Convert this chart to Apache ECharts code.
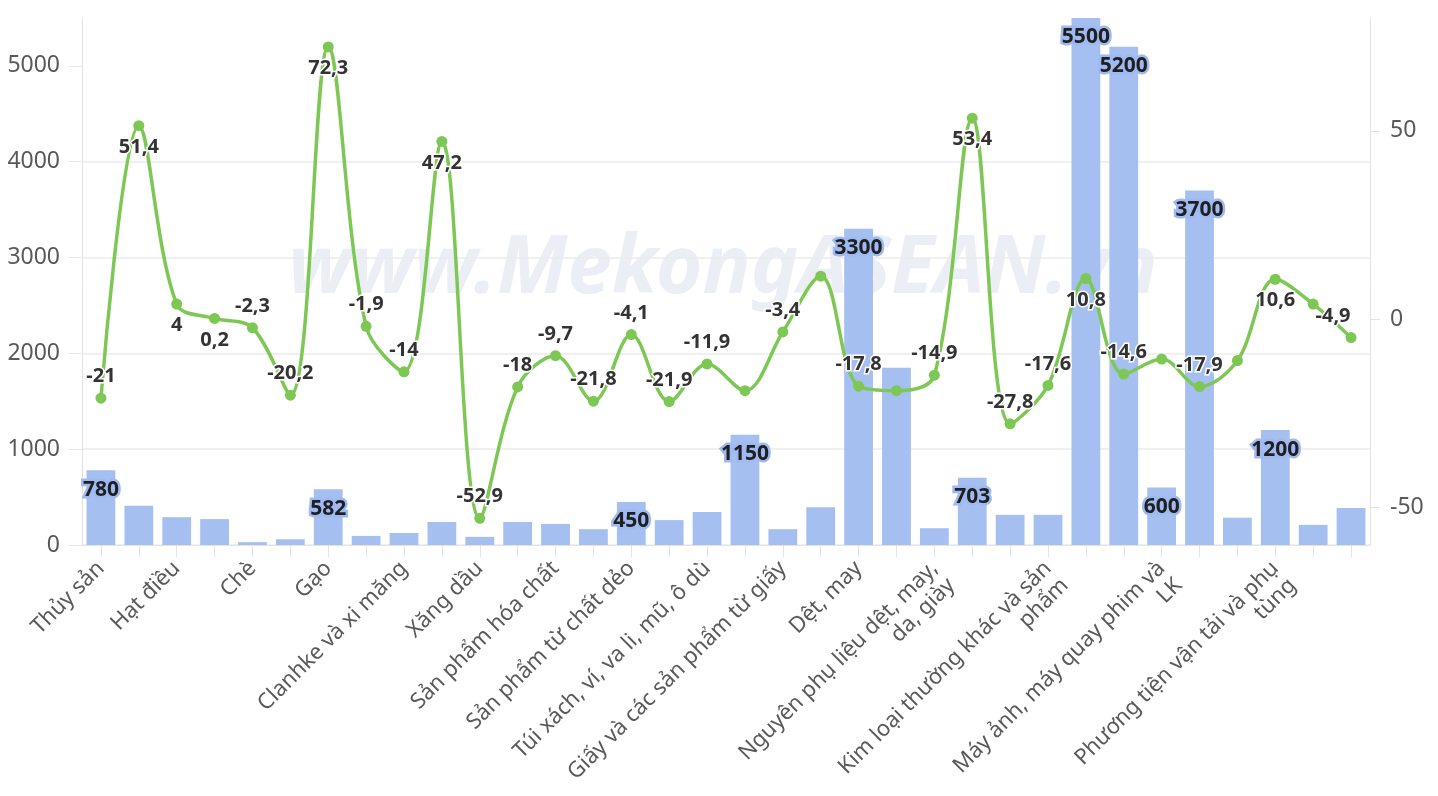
<!DOCTYPE html>
<html>
<head>
<meta charset="utf-8">
<script src="https://cdn.jsdelivr.net/npm/echarts@6/dist/echarts.min.js"></script>
<style>
html,body{margin:0;padding:0;background:#fff;}
#chart{width:1438px;height:796px;}
</style>
</head>
<body>
<div id="chart"></div>
<script>
const categories = [
  "Thủy sản", "Rau quả", "Hạt điều", "Cà phê", "Chè", "Hạt tiêu", "Gạo",
  "Sắn và các sản phẩm từ sắn", "Clanhke và xi măng", "Than các loại", "Xăng dầu",
  "Hóa chất", "Sản phẩm hóa chất", "Chất dẻo nguyên liệu", "Sản phẩm từ chất dẻo",
  "Sản phẩm từ cao su", "Túi xách, ví, va li, mũ, ô dù", "Gỗ và sản phẩm gỗ",
  "Giấy và các sản phẩm từ giấy", "Xơ, sợi dệt các loại", "Dệt, may", "Vải các loại",
  "Nguyên phụ liệu dệt, may,\nda, giày", "Giày dép các loại", "Sắt thép các loại",
  "Kim loại thường khác và sản\nphẩm", "Máy vi tính, sản phẩm điện tử và linh kiện",
  "Điện thoại các loại và linh kiện", "Máy ảnh, máy quay phim và\nLK",
  "Máy móc, thiết bị, dụng cụ phụ tùng khác", "Dây điện và dây cáp điện",
  "Phương tiện vận tải và phụ\ntùng", "Sản phẩm gốm, sứ", "Hàng hóa khác"
];
const exportValues = [
  780, 410, 290, 270, 30, 60, 582, 95, 125, 240, 85,
  240, 220, 165, 450, 260, 345, 1150, 165, 395, 3300, 1850,
  175, 703, 315, 315, 5500, 5200, 600, 3700, 285, 1200, 210, 385
];
const growthValues = [
  -21, 51.4, 4, 0.2, -2.3, -20.2, 72.3, -1.9, -14, 47.2, -52.9,
  -18, -9.7, -21.8, -4.1, -21.9, -11.9, -19, -3.4, 11.4, -17.8, -19,
  -14.9, 53.4, -27.8, -17.6, 10.8, -14.6, -10.6, -17.9, -11, 10.6, 4, -4.9
];
const leftTicks = [0, 1000, 2000, 3000, 4000, 5000];
const rightTicks = [-50, 0, 50];

// display configuration (not data)
const shownCategoryLabels = [0, 2, 4, 6, 8, 10, 12, 14, 16, 18, 20, 22, 25, 28, 31];
const barLabelIdx = [0, 6, 14, 17, 20, 23, 26, 27, 28, 29, 31];
const lineLabelHidden = [17, 19, 21, 28, 30, 32];
const lineLabelBelow = [1, 2, 3, 6, 9, 23, 26, 31];

const BAR = '#a5bff0';
const GREEN = '#7dc855';
const fmt = v => String(v).replace('.', ',');

const barData = exportValues.map((v, i) => ({
  value: v,
  label: { show: barLabelIdx.includes(i) }
}));
const lineData = growthValues.map((v, i) => {
  const lbl = { show: !lineLabelHidden.includes(i) };
  if (lineLabelBelow.includes(i)) lbl.position = 'bottom';
  if (i === growthValues.length - 1) lbl.offset = [-18, 0];
  return { value: v, label: lbl };
});

const chart = echarts.init(document.getElementById('chart'), null, { renderer: 'canvas' });
chart.setOption({
  animation: false,
  backgroundColor: '#ffffff',
  textStyle: { fontFamily: 'Noto Sans' },
  grid: { left: 82, right: 68, top: 18, bottom: 251, containLabel: false, outerBoundsMode: 'none' },
  graphic: [{
    type: 'text',
    left: 288,
    top: 230,
    silent: true,
    z: 0,
    style: {
      text: 'www.MekongASEAN.vn',
      font: 'italic bold 80px "Noto Sans"',
      fill: '#eceef5'
    }
  }],
  xAxis: {
    type: 'category',
    data: categories,
    boundaryGap: true,
    axisLine: { show: true, lineStyle: { color: '#e3e3e3', width: 1 } },
    axisTick: { show: true, interval: 0, alignWithLabel: true, length: 12, lineStyle: { color: '#e3e3e3' } },
    axisLabel: {
      interval: (idx) => shownCategoryLabels.includes(idx),
      rotate: 45,
      margin: 20,
      fontSize: 22,
      color: '#595959',
      fontFamily: 'Noto Sans',
      lineHeight: 24,
      formatter: v => v.includes('\n') ? '\n' + v : v
    },
    splitLine: { show: false }
  },
  yAxis: [{
    type: 'value',
    min: 0,
    max: 5500,
    interval: 1000,
    position: 'left',
    axisLine: { show: true, lineStyle: { color: '#e3e3e3' } },
    axisTick: { show: true, length: 14, customValues: leftTicks, lineStyle: { color: '#e8e8e8' } },
    axisLabel: { customValues: leftTicks, formatter: v => String(v), margin: 22, fontSize: 23, color: '#595959', fontFamily: 'Noto Sans' },
    splitLine: { show: true, showMaxLine: false, lineStyle: { color: '#ebebeb', width: 1.5 } }
  }, {
    type: 'value',
    min: -60,
    max: 80,
    position: 'right',
    axisLine: { show: true, lineStyle: { color: '#e3e3e3' } },
    axisTick: { show: true, length: 10, customValues: rightTicks, lineStyle: { color: '#e3e3e3' } },
    axisLabel: { customValues: rightTicks, formatter: v => String(v), margin: 20, fontSize: 23, color: '#595959', fontFamily: 'Noto Sans' },
    splitLine: { show: false }
  }],
  series: [{
    type: 'bar',
    name: 'Kim ngạch',
    data: barData,
    yAxisIndex: 0,
    barCategoryGap: '24%',
    itemStyle: { color: BAR },
    label: {
      position: 'insideTop',
      distance: 9,
      fontSize: 21,
      fontWeight: 'bold',
      color: '#1f1f1f',
      fontFamily: 'Noto Sans',
      textBorderColor: '#9fbaf2',
      textBorderWidth: 5
    },
    z: 2
  }, {
    type: 'line',
    name: 'Tăng trưởng',
    data: lineData,
    yAxisIndex: 1,
    smooth: 0.35,
    symbol: 'circle',
    symbolSize: 11,
    lineStyle: { color: GREEN, width: 3.5 },
    itemStyle: { color: GREEN },
    label: {
      show: true,
      position: 'top',
      distance: 6,
      formatter: p => fmt(p.value),
      fontSize: 20,
      fontWeight: 'bold',
      color: '#333333',
      fontFamily: 'Noto Sans',
      textBorderColor: '#ffffff',
      textBorderWidth: 3
    },
    z: 3
  }]
});
</script>
</body>
</html>
